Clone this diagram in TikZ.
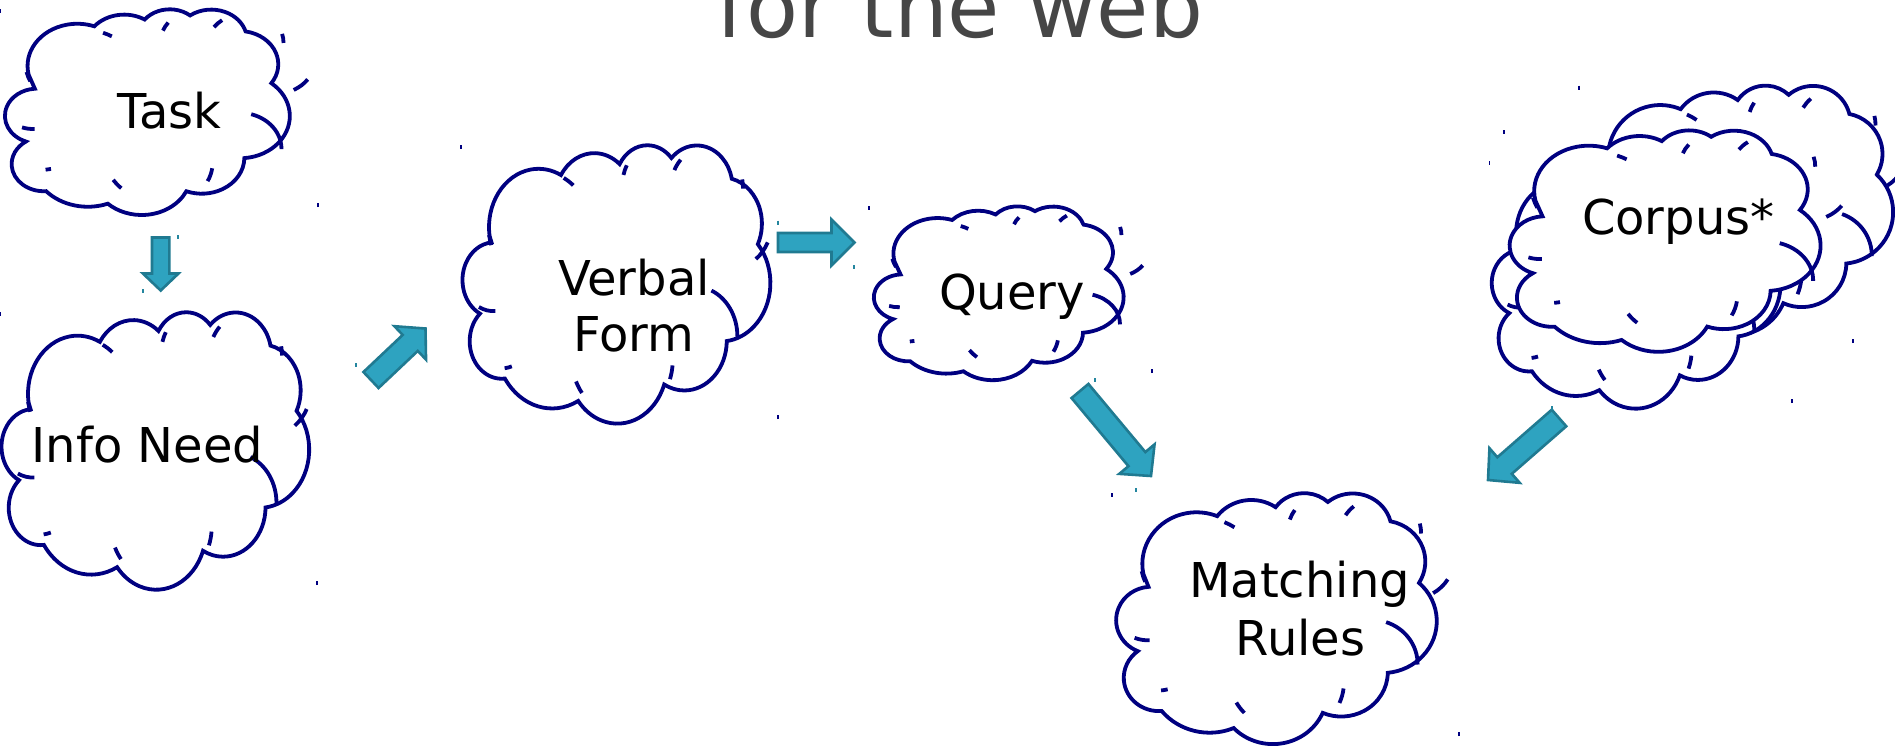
\documentclass[tikz,border=0pt]{standalone}
\usepackage{fontspec}
\setmainfont{DejaVu Sans}
\usetikzlibrary{calc}
\definecolor{cloudblue}{RGB}{0,0,128}
\definecolor{arrfill}{RGB}{46,163,192}
\definecolor{arrline}{RGB}{32,122,145}
\definecolor{titlegray}{RGB}{70,70,70}
\tikzset{
  cloudline/.style={draw=cloudblue,line width=3.8pt},
  cloudtick/.style={draw=cloudblue,line width=1.4pt},
  arrtick/.style={draw=arrline!70!arrfill,line width=1.4pt},
  blockarr/.style={fill=arrfill,draw=arrline,line width=2.6pt},
  lbl/.style={font=\fontsize{48}{57}\selectfont,text=black,inner sep=0pt,anchor=base},
  titletext/.style={font=\fontsize{85}{100}\selectfont,text=titlegray,inner sep=0pt,anchor=base}
}
% angle conversion for one arc: name, wR, hR, start, sweep
\newcommand\cloudang[5]{%
  \pgfmathsetmacro\tmpS{atan2(#2*\cloudr*sin(#4),#3*cos(#4))}%
  \pgfmathsetmacro\tmpE{atan2(#2*\cloudr*sin(#4+#5),#3*cos(#4+#5))}%
  \pgfmathsetmacro\tmpD{mod(\tmpE-\tmpS+720,360)}%
  \expandafter\let\csname cS#1\endcsname\tmpS
  \expandafter\let\csname cD#1\endcsname\tmpD
  \expandafter\def\csname cX#1\endcsname{#2}%
  \expandafter\def\csname cY#1\endcsname{#3}}
\newcommand\carc[1]{arc[start angle=\csname cS#1\endcsname,delta angle=\csname cD#1\endcsname,x radius=\csname cX#1\endcsname,y radius=\csname cY#1\endcsname]}
\newcommand\setcloudangles{%
  \cloudang{A}{6.753}{9.190}{-190.4875}{123.7805}%
  \cloudang{B}{5.333}{7.267}{-144.1024}{89.9452}%
  \cloudang{C}{4.365}{5.945}{-145.8079}{99.7230}%
  \cloudang{D}{4.857}{6.595}{-130.9861}{117.2417}%
  \cloudang{E}{5.333}{7.273}{-78.7089}{109.0269}%
  \cloudang{F}{6.775}{9.220}{-46.2673}{130.2690}%
  \cloudang{G}{5.785}{7.867}{0.6250}{114.0333}%
  \cloudang{H}{6.752}{9.215}{22.4516}{115.1726}%
  \cloudang{I}{7.720}{10.543}{66.2426}{75.7110}%
  \cloudang{J}{4.360}{5.918}{-274.9421}{146.7356}%
  \cloudang{K}{4.345}{5.945}{-246.8285}{152.5189}%
  \cloudang{a}{4.345}{5.945}{86.742}{26.4295}%
  \cloudang{b}{4.360}{5.918}{73.6105}{11.4475}%
  \cloudang{c}{6.752}{9.215}{137.6242}{14.0811}%
  \cloudang{d}{6.752}{9.215}{6.4533}{15.9984}%
  \cloudang{e}{5.785}{7.867}{-70.2924}{70.9174}%
  \cloudang{f}{5.333}{7.273}{30.3180}{27.7515}%
  \cloudang{g}{4.857}{6.595}{-13.7443}{14.8589}%
  \cloudang{h}{4.857}{6.595}{-149.1815}{18.1954}%
  \cloudang{i}{4.365}{5.945}{-163.4943}{17.6864}%
  \cloudang{j}{6.753}{9.190}{-66.7070}{12.3194}%
  \cloudang{k}{6.753}{9.190}{157.6544}{11.8582}}
% cloud: name, X, Y, W, H
\newcommand\drawcloud[5]{%
  \pgfmathsetmacro\cloudr{#4/#5}%
  \setcloudangles
  \begin{scope}[shift={(#2,#3)},xscale=#4/43.2,yscale=#5/43.2]
    \draw[cloudline,fill=white] (3.9,14.37) \carc{A} \carc{B} \carc{C} \carc{D} \carc{E} \carc{F} \carc{G} \carc{H} \carc{I} \carc{J} \carc{K} -- cycle;
    \draw[cloudline] (4.693,26.177) \carc{a} (6.928,34.899) \carc{b} (16.478,39.090) \carc{c} (28.827,34.751) \carc{d} (34.129,22.954) \carc{e} (41.798,15.354) \carc{f} (38.324,5.426) \carc{g} (29.078,3.952) \carc{h} (22.141,4.720) \carc{i} (14.000,5.192) \carc{j} (4.127,15.789) \carc{k};
    \coordinate (#1) at (21.6,21.6);
  \end{scope}
  \draw[cloudtick] (#2,#3) -- ++(0,4);
  \draw[cloudtick] (#2+#4,#3+#5) -- ++(0,-4);}
% block arrow: from, to, shaft half width, head half width, head length
\newcommand\blockarrow[5]{%
  \coordinate (hb) at ($(#2)!#5!(#1)$);
  \filldraw[blockarr] ($(#1)!#3!90:(#2)$) -- ($(hb)!#3!90:(#2)$) -- ($(hb)!#4!90:(#2)$) -- (#2) -- ($(hb)!#4!-90:(#2)$) -- ($(hb)!#3!-90:(#2)$) -- ($(#1)!#3!-90:(#2)$) -- cycle;}
\begin{document}
\begin{tikzpicture}[x=1pt,y=-1pt]
\useasboundingbox (0,0) rectangle (1895,745);
\fill[white] (0,0) rectangle (1895,745);
\node[titletext] (title) at (960,37) {for the web};
% clouds
\drawcloud{task}{0}{9}{318}{198}
\drawcloud{info}{0}{312}{317}{273}
\drawcloud{verbal}{461}{145}{317}{274}
\drawcloud{query}{869}{206}{283}{167}
\drawcloud{match}{1112}{493}{347}{243}
\drawcloud{corpusback}{1579}{85.5}{333}{242}
\drawcloud{corpusmid}{1489.5}{161}{302.5}{242}
\drawcloud{corpus}{1504}{130}{349}{213}
% labels
\node[lbl] (tTask) at (169.5,128.3) {Task};
\node[lbl] (tInfo) at (147.5,462.7) {Info Need};
\node[lbl] (tVerbal) at (634,295) {Verbal};
\node[lbl] (tForm) at (634,351.7) {Form};
\node[lbl] (tQuery) at (1012,309.3) {Query};
\node[lbl] (tMatching) at (1299.5,597.3) {Matching};
\node[lbl] (tRules) at (1300.5,655) {Rules};
\node[lbl] (tCorpus) at (1678.3,234) {Corpus*};
% arrows
\coordinate (a1s) at (160.7,237.5); \coordinate (a1e) at (160.7,290.5);
\coordinate (a2s) at (371,380);     \coordinate (a2e) at (425.5,328.5);
\coordinate (a3s) at (778,242.5);   \coordinate (a3e) at (854.5,242.5);
\coordinate (a4s) at (1080,391);    \coordinate (a4e) at (1151,476);
\coordinate (a5s) at (1559,418);    \coordinate (a5e) at (1488,480);
\blockarrow{a1s}{a1e}{8.7pt}{17.8pt}{17pt}
\blockarrow{a2s}{a2e}{11pt}{23pt}{21pt}
\blockarrow{a3s}{a3e}{9.5pt}{23pt}{23pt}
\blockarrow{a4s}{a4e}{11pt}{23pt}{22pt}
\blockarrow{a5s}{a5e}{11pt}{23pt}{22pt}
% small corner marks of the arrows
\draw[arrtick] (178,235) -- ++(0,4);
\draw[arrtick] (143,289) -- ++(0,4);
\draw[arrtick] (356,363) -- ++(0,4);
\draw[arrtick] (778,220.5) -- ++(0,4);
\draw[arrtick] (854,265) -- ++(0,4);
\draw[arrtick] (1095,378) -- ++(0,4);
\draw[arrtick] (1136,488) -- ++(0,4);
\draw[arrtick] (1552,406) -- ++(0,4);
\end{tikzpicture}
\end{document}
